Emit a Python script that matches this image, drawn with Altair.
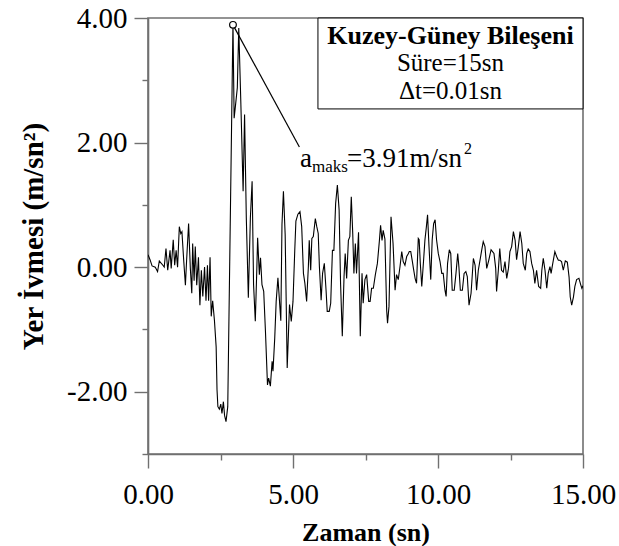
import altair as alt
import pandas as pd

# ---- data ----
time_s = [
    0.00, 0.07, 0.14, 0.25, 0.33, 0.39, 0.48, 0.56, 0.62, 0.68, 0.76, 0.80, 0.87, 0.92, 0.97, 1.02,
    1.08, 1.13, 1.17, 1.23, 1.29, 1.33, 1.40, 1.46, 1.51, 1.54, 1.59, 1.63, 1.68, 1.74, 1.79, 1.84,
    1.89, 1.95, 2.00, 2.05, 2.09, 2.14, 2.18, 2.23, 2.29, 2.35, 2.38, 2.41, 2.46, 2.51, 2.55, 2.60,
    2.64, 2.69, 2.75, 2.93,
    2.97, 3.02, 3.08, 3.13, 3.20, 3.28, 3.33, 3.39, 3.46, 3.53, 3.59, 3.64, 3.70, 3.75, 3.78, 3.84,
    3.88, 3.93, 3.99, 4.05, 4.12, 4.16, 4.22, 4.28, 4.31, 4.37, 4.42, 4.48, 4.58, 4.62, 4.67, 4.73,
    4.80, 4.88, 4.94, 5.00, 5.06, 5.10, 5.17,
    5.24, 5.30, 5.36, 5.41, 5.47, 5.53, 5.56, 5.61, 5.65, 5.70, 5.77, 5.82, 5.87, 5.91, 5.97, 6.02,
    6.08, 6.14, 6.18, 6.25, 6.30, 6.36, 6.41, 6.47, 6.53, 6.59, 6.64, 6.70, 6.76, 6.80, 6.85, 6.91,
    6.96, 7.01, 7.06, 7.10, 7.15, 7.19, 7.26, 7.32, 7.38, 7.42, 7.48, 7.54, 7.61, 7.66, 7.71, 7.77,
    7.84, 7.91, 7.98, 8.02, 8.07, 8.11, 8.17, 8.23, 8.26, 8.31, 8.38, 8.45,
    8.52, 8.57, 8.63, 8.69, 8.75, 8.80, 8.86, 8.92, 8.98, 9.01, 9.06, 9.11, 9.16, 9.21, 9.26, 9.32,
    9.35, 9.39, 9.44, 9.50, 9.55, 9.60, 9.64, 9.69, 9.75, 9.80, 9.85, 9.90, 9.95, 10.01, 10.07, 10.13,
    10.18, 10.24, 10.28, 10.33, 10.39, 10.44, 10.49, 10.56, 10.62, 10.68, 10.72, 10.77, 10.84, 10.90,
    10.96, 11.01, 11.07, 11.14, 11.22, 11.28, 11.33, 11.39,
    11.51, 11.56, 11.62, 11.68, 11.75, 11.83, 11.88, 11.93, 11.99, 12.02, 12.08, 12.13, 12.19, 12.25,
    12.31, 12.37, 12.43, 12.48, 12.54, 12.60, 12.66, 12.71, 12.77, 12.83, 12.89, 12.94, 13.01, 13.06,
    13.11, 13.17, 13.23, 13.29, 13.34, 13.40, 13.47, 13.54, 13.58, 13.63, 13.69, 13.75, 13.80, 13.86,
    13.90, 13.95, 14.03, 14.09, 14.15, 14.20, 14.26, 14.32, 14.39, 14.46, 14.52, 14.56, 14.61, 14.67,
    14.72, 14.78, 14.86, 14.92, 14.96, 15.00,
]
accel = [
    0.20, 0.12, 0.02, 0.00, -0.07, 0.10, 0.05, 0.00, 0.30, -0.05, 0.27, -0.02, 0.44, 0.03, 0.27, 0.00,
    0.65, 0.54, 0.57, 0.12, -0.29, 0.10, 0.70, -0.02, -0.42, 0.38, -0.22, 0.33, -0.29, 0.16, -0.61, -0.05,
    -0.47, 0.00, -0.54, 0.03, -0.54, 0.16, -0.79, -0.54, -0.85, -1.28, -1.97, -2.24, -2.28, -2.20, -2.35, -2.16,
    -2.38, -2.48, -2.24, 3.91,
    2.39, 2.61, 2.88, 3.84, 2.66, 1.22, 2.45, 0.79, -0.49, 0.79, 1.38, -0.28, -0.87, -0.07, 0.47, -0.12,
    0.15, -0.28, -0.39, -1.03, -1.89, -1.78, -1.91, -1.51, -1.67, -1.14, -0.55, -0.17, -0.86, 0.69, 1.22, 0.52,
    -1.62, -0.60, -0.87, -0.55, 0.26, 0.74, 0.85,
    0.89, 0.65, -0.10, -0.26, -0.55, 0.01, 0.43, -0.05, 0.46, 0.49, 0.78, 0.65, 0.54, 0.01, -0.53, -0.10,
    0.06, -0.37, -0.71, -0.71, -0.58, 0.27, 0.27, 1.02, 1.32, 0.92, -0.26, -1.11, -0.15, 0.22, -0.18, 0.43,
    0.49, 1.13, 0.54, -0.10, 0.38, -0.10, 0.56, -1.11, -0.10, -0.58, -0.20, -0.12, -0.55, -0.55, -0.34, -0.34,
    -0.12, 0.06, 0.43, 0.67, 0.43, 0.59, 0.45, -0.69, -0.90, -0.63, 0.81, 0.38,
    -0.37, -0.12, -0.20, 0.01, 0.25, 0.09, 0.03, 0.17, 0.22, 0.25, 0.25, 0.11, -0.04, -0.18, -0.26, 0.46,
    0.44, 0.06, -0.31, 0.09, 0.44, 0.65, 0.84, 0.33, -0.20, 0.44, 0.70, 0.76, 0.44, 0.22, 0.09, -0.10,
    -0.10, -0.37, -0.47, 0.06, 0.28, 0.22, -0.37, -0.37, -0.10, 0.22, 0.01, -0.37, -0.37, -0.10,
    -0.07, -0.15, -0.61, -0.42, 0.14, 0.03, -0.37, -0.05,
    0.28, 0.41, 0.33, -0.02, 0.11, 0.28, 0.25, 0.22, -0.02, -0.39, -0.05, 0.30, -0.05, -0.08,
    0.09, -0.18, -0.02, 0.25, 0.33, 0.57, 0.43, 0.12, 0.33, 0.57, 0.38, 0.06, -0.05, 0.22,
    0.29, 0.25, 0.06, -0.05, -0.26, -0.05, -0.31, -0.34, -0.05, 0.14, -0.05, -0.34, -0.10, 0.01,
    -0.10, 0.04, 0.25, 0.17, 0.11, 0.11, 0.09, -0.05, 0.10, 0.08, -0.16, -0.48, -0.61, -0.48,
    -0.31, -0.20, -0.18, -0.28, -0.34, -0.30,
]

x_tick_values = [0, 2.5, 5, 7.5, 10, 12.5, 15]
y_tick_values = [-3, -2, -1, 0, 1, 2, 3, 4]
x_title = "Zaman (sn)"
y_title = "Yer İvmesi (m/sn²)"

peak_time = [2.93]
peak_value = [3.89]
leader_end = [5.22, 1.93]

box_lines = ["Kuzey-Güney Bileşeni", "Süre=15sn", "Δt=0.01sn"]
box_line_y = [3.58, 3.15, 2.70]
box_center_x = [10.43]
box_extent = [5.86, 15.0, 2.54, 4.0]

label_pos = [5.24, 1.61]
label_parts = ["a", "maks", "=3.91m/sn", "2"]

SERIF = "Liberation Serif"

df = pd.DataFrame({"t": time_s, "a": accel})

xscale = alt.Scale(domain=[0, 15], nice=False, zero=False)
yscale = alt.Scale(domain=[-3, 4], nice=False, zero=False)

x_axis = alt.Axis(
    values=x_tick_values,
    labelExpr="datum.value % 5 == 0 ? format(datum.value, '.2f') : ''",
    tickSize={"condition": {"test": "datum.value % 5 == 0", "value": 14}, "value": 6},
    labelFlush=False,
    labelPadding=12,
    labelFontSize=29,
    title=x_title,
    titleFontSize=26,
    titleFontWeight="bold",
    titleBaseline="alphabetic",
    titleY=86,
)
y_axis = alt.Axis(
    values=y_tick_values,
    labelExpr="datum.value % 2 == 0 ? replace(format(datum.value, '.2f'), '\u2212', '-') : ''",
    tickSize={"condition": {"test": "datum.value % 2 == 0", "value": 14}, "value": 6},
    labelFlush=False,
    labelPadding=7,
    labelFontSize=29,
    title=y_title,
    titleFontSize=29,
    titleFontWeight="bold",
    titleBaseline="alphabetic",
    titleX=-106,
)


def X(field, **kw):
    return alt.X(field, type="quantitative", scale=xscale, axis=x_axis, **kw)


def Y(field, **kw):
    return alt.Y(field, type="quantitative", scale=yscale, axis=y_axis, **kw)


line = alt.Chart(df).mark_line(color="black", strokeWidth=1.1, clip=True).encode(
    x=X("t"), y=Y("a"), order="t:Q"
)

box_df = pd.DataFrame({"x1": [box_extent[0]], "x2": [box_extent[1]], "y1": [box_extent[2]], "y2": [box_extent[3]]})
box = alt.Chart(box_df).mark_rect(fill="white", stroke="black", strokeWidth=1).encode(
    x=X("x1"), x2="x2", y=Y("y1"), y2="y2"
)

box_text_df = pd.DataFrame({"x": box_center_x * 3, "y": box_line_y, "txt": box_lines})
box_title = alt.Chart(box_text_df.iloc[[0]]).mark_text(
    font=SERIF, fontSize=26, fontWeight="bold", align="center", baseline="alphabetic", color="black"
).encode(x=X("x"), y=Y("y"), text="txt")
box_body = alt.Chart(box_text_df.iloc[1:]).mark_text(
    font=SERIF, fontSize=25, align="center", baseline="alphabetic", color="black"
).encode(x=X("x"), y=Y("y"), text="txt")

leader_df = pd.DataFrame({"x1": peak_time, "y1": peak_value, "x2": [leader_end[0]], "y2": [leader_end[1]]})
leader = alt.Chart(leader_df).mark_rule(color="black", strokeWidth=1.2).encode(
    x=X("x1"), y=Y("y1"), x2="x2", y2="y2"
)
circle = alt.Chart(pd.DataFrame({"x": peak_time, "y": peak_value})).mark_point(
    shape="circle", size=45, filled=True, fill="white", stroke="black", strokeWidth=1.2, opacity=1
).encode(x=X("x"), y=Y("y"))

lab_df = pd.DataFrame({"x": [label_pos[0]], "y": [label_pos[1]]})


def lab(txt, size, dx, dy):
    return alt.Chart(lab_df).mark_text(
        font=SERIF, fontSize=size, align="left", baseline="alphabetic", color="black",
        dx=dx, dy=dy, text=txt
    ).encode(x=X("x"), y=Y("y"))


labels = [
    lab(label_parts[0], 27, 0, 0),
    lab(label_parts[1], 17, 12, 5),
    lab(label_parts[2], 27, 47, 0),
    lab(label_parts[3], 16, 164, -13),
]

chart = alt.layer(line, box, box_title, box_body, leader, circle, *labels).properties(
    width=435, height=436,
    autosize=alt.AutoSizeParams(type="none"),
    padding={"left": 148, "top": 18, "right": 36, "bottom": 92},
    background="white",
).configure_view(
    stroke="#707070", strokeWidth=1.6
).configure_axis(
    grid=False,
    domainColor="#707070", domainWidth=1.6,
    tickColor="#707070", tickWidth=1.4,
    labelFont=SERIF, labelColor="black",
    titleFont=SERIF, titleColor="black",
)

chart.save("out.html", embed_options={"renderer": "svg", "actions": False})
